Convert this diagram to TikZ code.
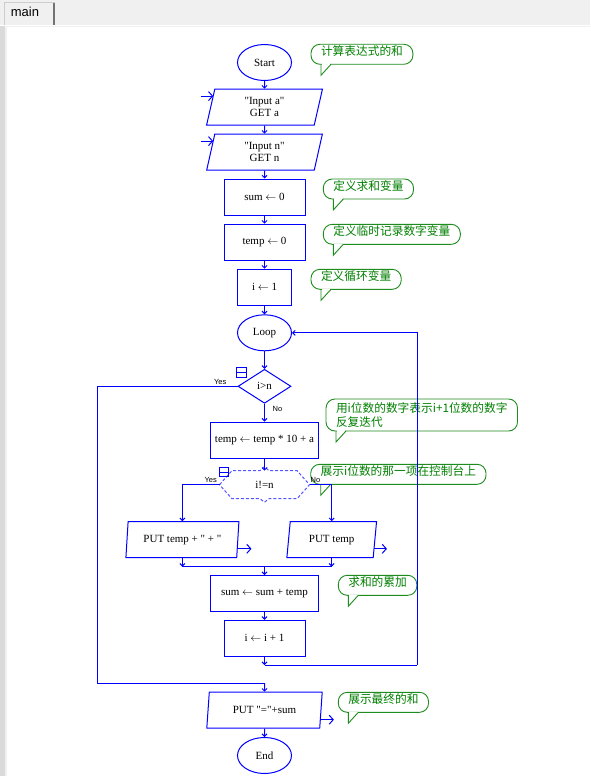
\documentclass[tikz,border=0pt]{standalone}
\usepackage{fontspec}
\setmainfont{Liberation Serif}[Ligatures=TeXOff]
\newfontfamily\cjk{Noto Sans CJK SC}
\newfontfamily\uisans{Liberation Sans}
\usetikzlibrary{shapes.geometric,arrows.meta}
\definecolor{flowblue}{RGB}{0,0,255}
\definecolor{dashblue}{RGB}{85,85,255}
\definecolor{notegreen}{RGB}{0,128,0}
\definecolor{notebd}{RGB}{30,140,30}
\definecolor{tabgray}{RGB}{240,240,240}
\definecolor{stripgray}{RGB}{218,218,218}
\definecolor{tabedge}{RGB}{205,205,205}

\begin{document}
\begin{tikzpicture}[x=1pt, y=-1pt,
    term/.style={ellipse, draw=flowblue, line width=1pt, minimum width=54pt, minimum height=36pt, inner sep=0pt, font=\fontsize{11}{13}\selectfont},
    proc/.style={rectangle, draw=flowblue, line width=1pt, minimum height=36pt, inner sep=2pt, font=\fontsize{11}{13}\selectfont},
    io/.style={trapezium, trapezium left angle=81, trapezium right angle=99, trapezium stretches=true, draw=flowblue, line width=1pt, minimum width=116pt, minimum height=36pt, inner sep=1pt, align=center, font=\fontsize{11}{12.5}\selectfont},
    test/.style={diamond, draw=flowblue, line width=1pt, minimum width=53pt, minimum height=34pt, inner sep=0pt, font=\fontsize{11}{13}\selectfont},
    flow/.style={draw=flowblue, line width=1pt, -{Straight Barb[length=2.5pt,width=5pt]}},
    wire/.style={draw=flowblue, line width=1pt},
    ioarrow/.style={draw=flowblue, line width=1pt, -{Straight Barb[length=4pt,width=9pt]}},
    note/.style={rectangle, draw=notebd, line width=0.9pt, rounded corners=9pt, fill=white, text=notegreen, anchor=north west, inner xsep=10pt, inner ysep=1pt, outer sep=0pt, align=left, font=\cjk\fontsize{11.7}{13.5}\selectfont},
    note1/.style={note, minimum height=20pt, text depth=7pt},
    notetail/.style={draw=notebd, line width=0.9pt},
    lbl/.style={inner sep=0pt, font=\uisans\fontsize{7.5}{9}\selectfont},
    fold/.style={draw=flowblue, line width=1pt, minimum size=10pt, inner sep=0pt, path picture={\draw[flowblue, line width=1pt] (path picture bounding box.west) -- (path picture bounding box.east);}}
]
    \useasboundingbox (0,0) rectangle (590,776);

    % window background and tab
    \fill[tabgray] (0,0) rectangle (590,776);
    \fill[stripgray] (0,25.5) rectangle (4.5,776);
    \fill[white] (6.7,26.7) rectangle (590,776);
    \draw[white, line width=1pt] (0,25.6) -- (590,25.6);
    \draw[tabedge, fill=tabgray] (4,25.5) -- (4,2.7) -- (54,2.7) -- (54,25.5);
    \draw[black!55, line width=1.2pt] (54,2.7) -- (54,25.5);
    \node[anchor=base west, inner sep=0pt, font=\uisans\fontsize{13}{15}\selectfont] (tab) at (10.7,16.8) {main};

    % comments
    \node[note1] (n1) at (311,44.3) {计算表达式的和};
    \node[note1] (n2) at (323.3,179) {定义求和变量};
    \node[note1] (n3) at (323.3,224.3) {定义临时记录数字变量};
    \node[note1] (n4) at (311,269.3) {定义循环变量};
    \node[note, minimum height=32pt] (n5) at (326,399) {用i位数的数字表示i+1位数的数字\\反复迭代};
    \node[note1] (n6) at (310.7,464.3) {展示i位数的那一项在控制台上};
    \node[note1] (n7) at (338.3,575.3) {求和的累加};
    \node[note1] (n8) at (338.3,692.3) {展示最终的和};
    \foreach \n in {n1,n2,n3,n4,n5,n6,n7,n8} {
        \draw[white, line width=1.6pt] ([xshift=10.8pt]\n.south west) -- ([xshift=19.2pt]\n.south west);
        \draw[notetail] ([xshift=10pt]\n.south west) -- ++(0,11) -- ([xshift=20pt]\n.south west);
    }

    % flowchart
    \node[term] (start) at (264.5,62.5) {Start};
    \node[io] (ina) at (264.5,107.2) {"Input a"\\GET a};
    \node[io] (inn) at (264.5,152.2) {"Input n"\\GET n};
    \node[proc, minimum width=81pt] (sum0) at (264.5,197) {sum $\leftarrow$ 0};
    \node[proc, minimum width=81pt] (temp0) at (264.5,242.2) {temp $\leftarrow$ 0};
    \node[proc, minimum width=54pt] (i1) at (264.5,287.2) {i $\leftarrow$ 1};
    \node[term] (loop) at (264.5,332.8) {Loop};
    \node[test] (check) at (264.5,386.3) {i>n};
    \node[proc, minimum width=107.6pt] (calc) at (264.5,440) {temp $\leftarrow$ temp * 10 + a};
    \node[inner sep=0pt, outer sep=0pt, minimum width=90pt, minimum height=28pt, font=\fontsize{11}{13}\selectfont] (ifeq) at (264.5,484.7) {i!=n};
    \draw[dashblue, line width=1pt, dash pattern=on 3pt off 2pt] (ifeq.west) -- ([xshift=12.4pt]ifeq.north west) -- ([xshift=-4.5pt]ifeq.north) -- ([yshift=4pt]ifeq.north) -- ([xshift=4.5pt]ifeq.north) -- ([xshift=-12.4pt]ifeq.north east) -- (ifeq.east) -- ([xshift=-12.4pt]ifeq.south east) -- ([xshift=4.5pt]ifeq.south) -- ([yshift=-3.5pt]ifeq.south) -- ([xshift=-4.5pt]ifeq.south) -- ([xshift=12.4pt]ifeq.south west) -- cycle;
    \node[io, minimum width=113.3pt, trapezium left angle=82, trapezium right angle=98] (putplus) at (182.4,539.7) {PUT temp + " + "};
    \node[io, minimum width=90pt, trapezium left angle=80.5, trapezium right angle=99.5] (puttemp) at (331.7,539.7) {PUT temp};
    \node[proc, minimum width=108pt] (sumadd) at (264.5,593.5) {sum $\leftarrow$ sum + temp};
    \node[proc, minimum width=81pt] (inc) at (264.5,638.3) {i $\leftarrow$ i + 1};
    \node[io] (output) at (264.5,710.2) {PUT "="+sum};
    \node[term] (end) at (264.5,755.5) {End};

    \node[fold] (fold1) at (241.7,372.3) {};
    \node[fold, minimum size=9pt] (fold2) at (223.8,472.2) {};

    \node[lbl, anchor=east] (yes1) at (226.5,381.8) {Yes};
    \node[lbl, anchor=west] (no1) at (272.5,409.3) {No};
    \node[lbl, anchor=east] (yes2) at (217,480) {Yes};
    \node[lbl, anchor=west] (no2) at (310.5,479.5) {No};

    \coordinate (mergel) at (182.4,566.7);
    \coordinate (merger) at (331.7,566.7);
    \coordinate (merge) at (264.5,566.7);
    \coordinate (backlow) at (264.5,665);
    \coordinate (backright) at (417.3,665);
    \coordinate (yesleft) at (97.3,683.3);
    \coordinate (yesjoin) at (264.5,683.3);

    % connectors
    \draw[flow] (start) -- (ina);
    \draw[flow] (ina) -- (inn);
    \draw[flow] (inn) -- (sum0);
    \draw[flow] (sum0) -- (temp0);
    \draw[flow] (temp0) -- (i1);
    \draw[flow] (i1) -- (loop);
    \draw[flow] (loop) -- (check);
    \draw[flow] (check) -- (calc);
    \draw[flow] (calc) -- (ifeq);
    \draw[flow] (ifeq.west) -| (putplus);
    \draw[flow] (ifeq.east) -| (puttemp);
    \draw[flow] (putplus) -- (mergel);
    \draw[flow] (puttemp) -- (merger);
    \draw[wire] (mergel) -- (merger);
    \draw[flow] (merge) -- (sumadd);
    \draw[flow] (sumadd) -- (inc);
    \draw[flow] (inc) -- (backlow);
    \draw[wire] (backlow) -- (backright);
    \draw[flow] (backright) |- (loop);
    \draw[wire] (check.west) -| (yesleft) -- (yesjoin);
    \draw[flow] (yesjoin) -- (output);
    \draw[flow] (output) -- (end);

    % input / output marks
    \draw[ioarrow] ([xshift=-13.4pt,yshift=-7.4pt]ina.top left corner) -- ([xshift=-1.2pt,yshift=-7.4pt]ina.top left corner);
    \draw[ioarrow] ([xshift=-13.4pt,yshift=-7.4pt]inn.top left corner) -- ([xshift=-1.2pt,yshift=-7.4pt]inn.top left corner);
    \draw[ioarrow] ([yshift=9.4pt]putplus.bottom right corner) -- ++(14.3,0);
    \draw[ioarrow] ([yshift=9.4pt]puttemp.bottom right corner) -- ++(13.3,0);
    \draw[ioarrow] ([yshift=9pt]output.bottom right corner) -- ++(13.7,0);
\end{tikzpicture}
\end{document}
